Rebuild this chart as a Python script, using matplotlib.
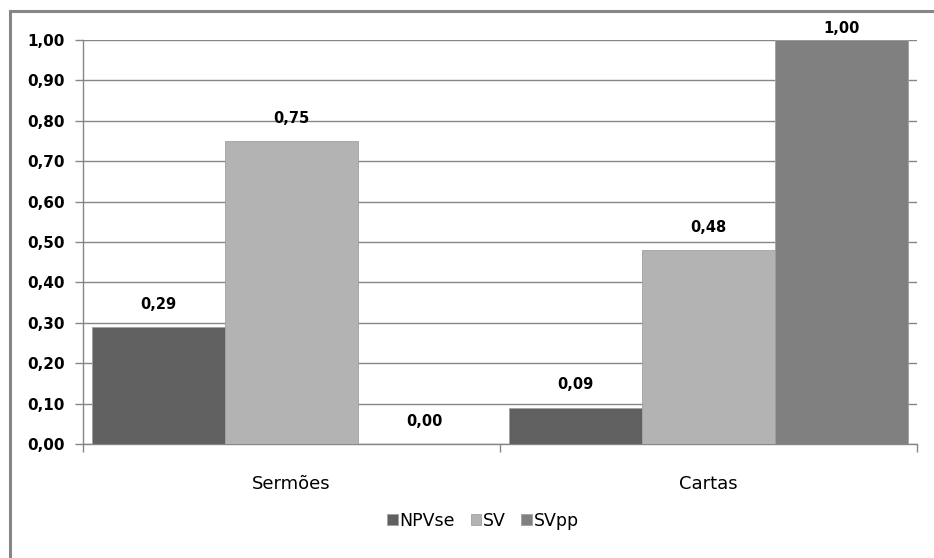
import matplotlib.pyplot as plt
from matplotlib.patches import Rectangle
import numpy as np

# datos
categorias = ["Sermões", "Cartas"]
series = ["NPVse", "SV", "SVpp"]
npvse = [0.29, 0.09]
sv = [0.75, 0.48]
svpp = [0.00, 1.00]
valores = [npvse, sv, svpp]
colores = ["#606060", "#b3b3b3", "#808080"]
yticks = [0.0, 0.1, 0.2, 0.3, 0.4, 0.5, 0.6, 0.7, 0.8, 0.9, 1.0]

fig = plt.figure(figsize=(9.34, 5.58), dpi=100)
ax = fig.add_axes([83 / 934, 1 - 444 / 558, 834 / 934, 404 / 558])

# marco exterior (solo se ve arriba e izquierda)
fig.patches.append(Rectangle((9.5 / 934, -0.1), 1.2, 1 - 11.5 / 558 + 0.1,
                             transform=fig.transFigure, fill=False,
                             edgecolor="#868686", linewidth=2.2))

x = np.arange(len(categorias))
ancho = 133 / 417
for i, (nombre, vals, col) in enumerate(zip(series, valores, colores)):
    pos = x + (i - 1) * ancho
    ax.bar(pos, vals, width=ancho, color=col, edgecolor="#a0a0a0",
           linewidth=0.6, label=nombre, zorder=3)
    for p, v in zip(pos, vals):
        off = 11 if v < 0.95 else 3
        ax.annotate(("%.2f" % v).replace(".", ","), (p, v),
                    xytext=(0, off), textcoords="offset points",
                    ha="center", va="bottom", fontsize=10.5,
                    fontweight="bold", color="#000000", zorder=4)

ax.set_xlim(-0.5, 1.5)
ax.set_ylim(0, 1.0)
ax.set_yticks(yticks)
ax.set_yticklabels([("%.2f" % t).replace(".", ",") for t in yticks],
                   fontsize=11, fontweight="bold")
ax.yaxis.grid(True, color="#868686", linewidth=1.0, zorder=0)

# ticks de categoria en los bordes
ax.set_xticks([-0.5, 0.5, 1.5])
ax.set_xticklabels([])
ax.set_xticks(x, minor=True)
ax.set_xticklabels(categorias, minor=True, fontsize=13)
ax.tick_params(axis="x", which="minor", length=0, pad=22)
ax.tick_params(axis="x", which="major", length=6, color="#868686", width=1)
ax.tick_params(axis="y", length=6, color="#868686", width=1, pad=7)

for lado in ["top", "right"]:
    ax.spines[lado].set_visible(False)
for lado in ["left", "bottom"]:
    ax.spines[lado].set_color("#868686")
    ax.spines[lado].set_linewidth(1)

fig.legend(loc="center", bbox_to_anchor=(483 / 934, 1 - 521 / 558), ncol=3,
           frameon=False, fontsize=12.5, handlelength=0.6, handleheight=0.6,
           handletextpad=0.1, columnspacing=0.9)

plt.savefig("out.png", dpi=100)
